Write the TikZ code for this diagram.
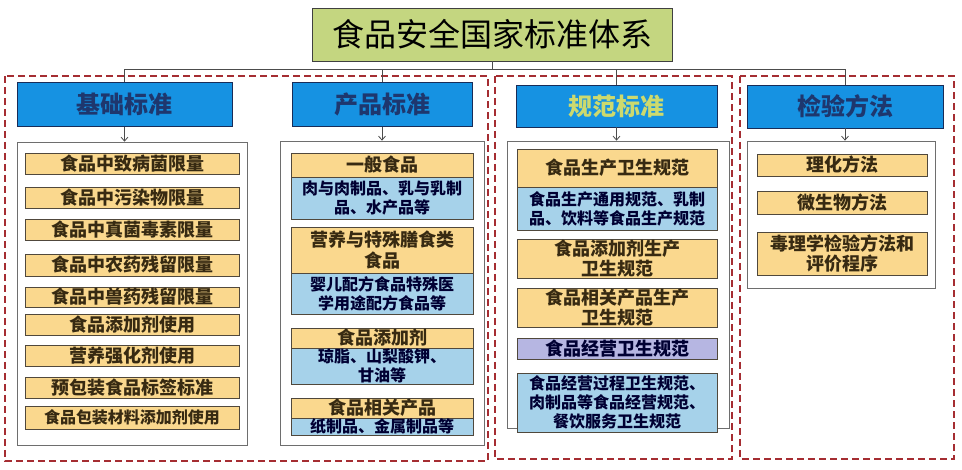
\documentclass[tikz,border=0pt]{standalone}
\usepackage{fontspec}
\newfontfamily\cjk{Noto Sans CJK SC}
\usetikzlibrary{arrows.meta}
\definecolor{dashred}{RGB}{165,45,50}
\definecolor{hdrfill}{RGB}{22,146,226}
\definecolor{hdrtext}{RGB}{30,55,110}
\definecolor{hdrtextY}{RGB}{205,218,110}
\definecolor{titlefill}{RGB}{196,214,128}
\definecolor{yelfill}{RGB}{250,216,142}
\definecolor{bluefill}{RGB}{166,210,234}
\definecolor{lavfill}{RGB}{182,182,226}
\definecolor{itemtext}{RGB}{55,42,18}
\definecolor{itemborder}{RGB}{80,72,60}
\definecolor{contborder}{RGB}{110,110,110}
\tikzset{
  groupbox/.style={draw=dashred, line width=2.5pt, dash pattern=on 7pt off 4pt},
  titlebox/.style={draw=black!75, line width=0.8pt, fill=titlefill, inner sep=0pt,
    font=\cjk\fontsize{32}{36}\selectfont, text=black},
  hdrbox/.style={draw=hdrtext!80!black, line width=0.8pt, fill=hdrfill, inner sep=0pt,
    font=\cjk\bfseries\fontsize{24}{28}\selectfont, text=hdrtext},
  contbox/.style={draw=contborder, line width=0.7pt, fill=white, inner sep=0pt},
  itembase/.style={draw=itemborder, line width=0.8pt, inner sep=0pt, align=center, text=itemtext},
  yitem/.style={itembase, fill=yelfill, font=\cjk\bfseries\fontsize{18}{20.5}\selectfont},
  bitem/.style={itembase, fill=bluefill, font=\cjk\bfseries\fontsize{16}{19}\selectfont, text=black!80!blue},
  litem/.style={itembase, fill=lavfill, font=\cjk\bfseries\fontsize{18}{20}\selectfont, text=black!80!blue},
  link/.style={draw=black!70, line width=0.8pt},
  arr/.style={link, -{Straight Barb[length=4pt,width=7pt]}},
}
\begin{document}
\begin{tikzpicture}[x=1pt,y=-1pt]
\useasboundingbox (0,0) rectangle (962,470);
% group frames
\draw[groupbox] (5,76) rectangle (488,461);
\draw[groupbox] (495,76) rectangle (732,459);
\draw[groupbox] (740,76) rectangle (954,459);

% title
\node[titlebox, minimum width=360pt, minimum height=53pt] (t) at (492,34.5) {食品安全国家标准体系};

% headers
\node[hdrbox, minimum width=215pt, minimum height=44pt] (h1) at (124.5,104.5) {基础标准};
\node[hdrbox, minimum width=180pt, minimum height=44pt] (h2) at (382,104.5) {产品标准};
\node[hdrbox, minimum width=201pt, minimum height=42pt, text=hdrtextY] (h3) at (616.5,106) {规范标准};
\node[hdrbox, minimum width=196pt, minimum height=43pt] (h4) at (845,106.5) {检验方法};

% bus
\coordinate (bus) at (492,69);
\draw[link] (t.south) -- (t.south |- bus);
\draw[link] (h1.north) -- (h1.north |- bus) -- (h4.north |- bus) -- (h4.north);
\draw[link] (h2.north) -- (h2.north |- bus);
\draw[link] (h3.north) -- (h3.north |- bus);

% containers
\node[contbox, minimum width=230pt, minimum height=303pt] (c1) at (132,293.5) {};
\node[contbox, minimum width=204pt, minimum height=304pt] (c2) at (382,293) {};
\node[contbox, minimum width=222pt, minimum height=287pt] (c3) at (618,284.5) {};
\node[contbox, minimum width=188pt, minimum height=147pt] (c4) at (841,214.5) {};

\draw[arr] (h1.south) -- (h1.south |- c1.north);
\draw[arr] (h2.south) -- (h2.south |- c2.north);
\draw[arr] (h3.south) -- (h3.south |- c3.north);
\draw[arr] (h4.south) -- (h4.south |- c4.north);

% left column items
\node[yitem, minimum width=214pt, minimum height=21pt] (a1) at (132,163.5) {食品中致病菌限量};
\node[yitem, minimum width=214pt, minimum height=21pt] (a2) at (132,197.5) {食品中污染物限量};
\node[yitem, minimum width=214pt, minimum height=21pt] (a3) at (132,229.5) {食品中真菌毒素限量};
\node[yitem, minimum width=214pt, minimum height=22pt] (a4) at (132,265) {食品中农药残留限量};
\node[yitem, minimum width=214pt, minimum height=20pt] (a5) at (132,297) {食品中兽药残留限量};
\node[yitem, minimum width=214pt, minimum height=21pt] (a6) at (132,324.5) {食品添加剂使用};
\node[yitem, minimum width=214pt, minimum height=21pt] (a7) at (132,355.5) {营养强化剂使用};
\node[yitem, minimum width=214pt, minimum height=21pt] (a8) at (132,387.5) {预包装食品标签标准};
\node[yitem, minimum width=214pt, minimum height=23pt, font=\cjk\bfseries\fontsize{16}{19}\selectfont] (a9) at (132,417.5) {食品包装材料添加剂使用};

% product column
\node[yitem, minimum width=182pt, minimum height=24pt] (p1) at (382,165) {一般食品};
\node[bitem, minimum width=182pt, minimum height=42pt] (p1b) at (382,198) {肉与肉制品、乳与乳制\\品、水产品等};
\node[yitem, minimum width=182pt, minimum height=46pt] (p2) at (382,250) {营养与特殊膳食类\\食品};
\node[bitem, minimum width=182pt, minimum height=41pt] (p2b) at (382,293.5) {婴儿配方食品特殊医\\学用途配方食品等};
\node[yitem, minimum width=182pt, minimum height=20pt] (p3) at (382,338) {食品添加剂};
\node[bitem, minimum width=182pt, minimum height=36pt] (p3b) at (382,366) {琼脂、山梨酸钾、\\甘油等};
\node[yitem, minimum width=182pt, minimum height=20pt] (p4) at (382,408) {食品相关产品};
\node[bitem, minimum width=182pt, minimum height=17pt] (p4b) at (382,426.5) {纸制品、金属制品等};

% norms column
\node[yitem, minimum width=200pt, minimum height=38pt] (s1) at (617,168) {食品生产卫生规范};
\node[bitem, minimum width=200pt, minimum height=43pt] (s1b) at (617,208.5) {食品生产通用规范、乳制\\品、饮料等食品生产规范};
\node[yitem, minimum width=200pt, minimum height=39pt] (s2) at (617,258.5) {食品添加剂生产\\卫生规范};
\node[yitem, minimum width=200pt, minimum height=39pt] (s3) at (617,307.5) {食品相关产品生产\\卫生规范};
\node[litem, minimum width=200pt, minimum height=21pt] (s4) at (617,348.5) {食品经营卫生规范};
\node[bitem, minimum width=200pt, minimum height=59pt] (s5) at (617,402.5) {食品经营过程卫生规范、\\肉制品等食品经营规范、\\餐饮服务卫生规范};

% methods column
\node[yitem, minimum width=170pt, minimum height=22pt] (v1) at (842,165) {理化方法};
\node[yitem, minimum width=170pt, minimum height=23pt] (v2) at (842,202.5) {微生物方法};
\node[yitem, minimum width=170pt, minimum height=43pt] (v3) at (842,253.5) {毒理学检验方法和\\评价程序};
\end{tikzpicture}
\end{document}
